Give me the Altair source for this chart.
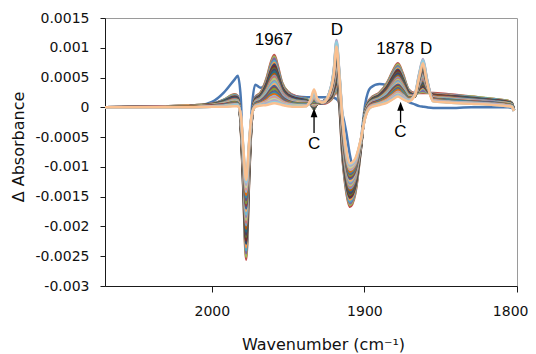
import altair as alt
import pandas as pd

# ---------------- data (absorbance values in units of 1e-5) ----------------
wavenumber = [2070, 2040, 2015, 2000, 1992, 1985, 1983, 1981, 1979.5, 1977.5,
              1975.5, 1974, 1971.5, 1968, 1964, 1961, 1959, 1957, 1954, 1950,
              1944, 1938, 1935, 1933, 1931, 1927, 1922, 1920, 1918.3, 1916.5,
              1914.5, 1912, 1909.5, 1906, 1902.5, 1899.5, 1896, 1890, 1885, 1881,
              1878, 1875, 1871, 1867, 1864, 1861.6, 1859, 1855, 1845, 1830,
              1815, 1806, 1803.5, 1802]

# first scan (dark blue line)
first_scan = [0, 0, 1, 9, 25, 47, 53, 15, -110, -230,
              -110, -10, 38, 33, 40, 52, 58, 50, 32, 22,
              18, 17, 17, 17, 17, 17, 17, 16, 14, 8,
              -10, -40, -80, -110, -60, 5, 33, 39, 37, 34,
              26, 18, 9, 5, 2, 1, 0, -1, -1, 0,
              0, 0, -1, -4]

# later scans 2..30, one list per wavenumber
b2070 = [0,0,0,0,0, 0,0,0,0,0, 0,0,0,0,0, 0,0,0,0,0, 0,0,0,0,0, 0,0,0,0]
b2040 = [1,1,1,1,1, 1,1,1,1,1, 1,1,1,0,0, 0,0,0,0,0, 0,0,0,0,0, 0,0,0,0]
b2015 = [3,3,3,3,3, 2,2,2,2,2, 2,2,2,2,1, 1,1,1,1,1, 1,1,1,0,0, 0,0,0,0]
b2000 = [6,6,6,5,5, 5,5,5,4,4, 4,4,4,4,3, 3,3,3,3,2, 2,2,2,2,2, 1,1,1,1]
b1992 = [13,13,12,12,11, 11,10,10,9,9, 8,8,7,7,6, 6,6,5,5,4, 4,4,3,3,2, 2,2,1,1]
b1985 = [22,21,20,20,19, 18,17,16,16,15, 14,13,13,12,11, 11,10,9,8,8, 7,6,6,5,4, 4,3,3,2]
b1983 = [19,18,18,17,16, 16,15,14,14,13, 12,12,11,11,10, 9,9,8,7,7, 6,6,5,5,4, 4,3,3,2]
b1981 = [-35,-34,-33,-32,-31, -30,-30,-29,-28,-27, -26,-25,-24,-24,-23, -22,-21,-20,-19,-19, -18,-17,-16,-15,-15, -14,-13,-13,-12]
b1979_5 = [-130,-127,-125,-122,-119, -116,-114,-111,-109,-106, -104,-101,-99,-96,-93, -91,-89,-87,-84,-82, -79,-77,-75,-72,-70, -68,-66,-64,-62]
b1977_5 = [-256,-251,-245,-240,-235, -229,-224,-218,-214,-209, -204,-198,-194,-189,-184, -180,-174,-170,-165,-161, -156,-151,-147,-142,-138, -134,-130,-126,-122]
b1975_5 = [-120,-117,-115,-112,-110, -107,-104,-102,-100,-97, -95,-92,-90,-88,-85, -83,-80,-78,-76,-74, -71,-69,-67,-65,-63, -61,-59,-57,-55]
b1974 = [-30,-29,-29,-28,-28, -27,-26,-26,-25,-25, -24,-24,-23,-23,-22, -21,-21,-20,-20,-19, -19,-18,-18,-17,-17, -16,-16,-15,-15]
b1971_5 = [17,16,16,15,14, 14,13,13,12,11, 11,10,10,9,8, 8,7,7,6,6, 5,5,4,3,3, 2,2,1,1]
b1968 = [25,24,23,22,22, 21,20,19,18,17, 16,16,15,14,13, 13,12,11,10,9, 9,8,7,6,6, 5,4,4,3]
b1964 = [50,48,46,44,43, 41,39,37,36,34, 32,30,29,27,25, 24,22,21,19,17, 16,14,13,11,10, 8,7,5,4]
b1961 = [78,75,72,69,67, 64,61,58,56,53, 50,47,45,42,39, 37,34,32,29,27, 24,22,20,17,15, 13,10,8,6]
b1959 = [88,85,82,78,75, 72,69,65,63,60, 56,53,51,48,44, 42,39,36,33,31, 27,25,22,19,17, 14,12,9,7]
b1957 = [72,69,67,64,61, 59,56,54,52,49, 46,44,42,39,36, 34,32,30,27,25, 23,21,19,16,14, 12,10,8,6]
b1954 = [42,41,39,37,36, 34,33,31,30,29, 27,26,25,23,22, 20,19,18,16,15, 14,12,11,10,9, 7,6,5,4]
b1950 = [26,25,24,23,22, 21,20,19,19,18, 17,16,15,14,13, 12,11,11,10,9, 8,7,7,6,5, 4,3,3,2]
b1944 = [18,17,17,16,15, 15,14,13,13,12, 11,11,10,10,9, 8,8,7,6,6, 5,5,4,4,3, 3,2,2,1]
b1938 = [14,14,13,13,12, 12,11,11,10,10, 9,9,9,8,8, 7,7,6,6,6, 5,5,4,4,3, 3,3,2,2]
b1935 = [5,5,5,5,5, 5,5,5,5,5, 5,5,6,6,6, 6,6,7,7,7, 8,8,9,10,10, 11,12,13,15]
b1933 = [-3,-3,-2,-2,-1, -1,0,0,1,1, 2,3,3,4,5, 6,7,8,9,10, 12,13,15,17,19, 21,24,27,30]
b1931 = [6,6,6,6,6, 6,6,6,6,6, 6,6,6,7,7, 7,7,8,8,8, 9,9,10,10,11, 12,13,14,15]
b1927 = [6,7,7,8,8, 8,9,9,9,10, 10,10,10,10,10, 10,10,10,10,10, 10,10,10,10,9, 9,9,8,8]
b1922 = [12,13,14,15,15, 16,17,18,19,20, 20,21,22,23,24, 25,26,26,27,28, 29,30,31,32,32, 33,34,33,30]
b1920 = [20,22,24,25,27, 29,31,33,34,36, 38,40,41,43,45, 47,48,50,52,54, 55,57,59,61,62, 64,65,63,57]
b1918_3 = [27,30,34,37,40, 44,47,50,54,57, 60,63,67,70,73, 77,80,83,86,90, 93,96,100,103,106, 110,113,110,102]
b1916_5 = [5,7,9,12,14, 16,18,20,23,25, 27,29,31,34,36, 38,40,42,45,47, 49,51,53,56,58, 60,62,60,55]
b1914_5 = [-80,-77,-75,-72,-69, -67,-64,-61,-58,-56, -53,-50,-48,-45,-42, -40,-37,-34,-32,-29, -26,-23,-21,-18,-15, -13,-10,-12,-15]
b1912 = [-140,-137,-134,-132,-129, -126,-123,-120,-118,-116, -113,-110,-108,-105,-102, -100,-97,-95,-92,-90, -88,-85,-83,-81,-78, -76,-74,-72,-70]
b1909_5 = [-167,-164,-161,-158,-155, -152,-150,-147,-144,-141, -139,-136,-133,-131,-128, -125,-123,-120,-117,-115, -112,-110,-108,-105,-103, -101,-98,-96,-94]
b1906 = [-145,-143,-140,-138,-136, -133,-131,-129,-127,-124, -122,-120,-118,-116,-113, -111,-109,-107,-105,-103, -101,-99,-97,-95,-93, -91,-90,-88,-86]
b1902_5 = [-75,-74,-73,-73,-72, -71,-70,-69,-69,-68, -67,-66,-66,-65,-64, -64,-63,-62,-61,-61, -60,-59,-59,-58,-57, -57,-56,-56,-55]
b1899_5 = [-5,-5,-6,-6,-6, -7,-7,-7,-8,-8, -9,-9,-10,-10,-11, -11,-12,-12,-13,-13, -14,-14,-15,-15,-16, -16,-17,-17,-18]
b1896 = [15,14,14,13,13, 12,11,11,10,10, 9,9,8,8,7, 6,6,5,5,4, 4,3,3,2,2, 1,1,0,0]
b1890 = [25,24,23,23,22, 21,20,19,19,18, 17,16,15,15,14, 13,12,12,11,10, 9,9,8,7,7, 6,5,5,4]
b1885 = [42,41,39,38,37, 35,34,33,32,30, 29,27,26,25,24, 23,21,20,19,18, 17,16,15,13,12, 11,10,9,8]
b1881 = [63,61,59,57,55, 53,51,49,48,46, 44,42,40,38,36, 35,33,32,30,28, 26,25,23,21,20, 18,17,15,14]
b1878 = [74,72,69,67,65, 63,61,58,57,54, 52,50,48,46,44, 42,40,38,36,34, 32,30,29,26,25, 23,21,20,18]
b1875 = [58,56,54,53,51, 49,47,46,44,43, 41,39,38,36,34, 33,31,30,28,27, 25,24,22,21,19, 18,17,15,14]
b1871 = [30,29,28,28,27, 26,25,24,24,23, 22,21,21,20,19, 19,18,17,16,16, 15,14,14,13,12, 12,11,11,10]
b1867 = [24,23,23,22,22, 21,21,20,20,20, 19,19,19,18,18, 18,18,18,18,18, 19,19,19,20,20, 21,22,21,20]
b1864 = [24,25,27,28,29, 31,32,33,34,36, 37,38,40,41,42, 44,45,46,48,49, 50,51,53,54,55, 57,58,56,52]
b1861_6 = [24,26,28,31,33, 35,37,39,42,44, 46,48,50,53,55, 57,59,61,64,66, 68,70,72,75,77, 79,81,79,74]
b1859 = [24,25,26,27,28, 29,29,30,31,32, 33,34,35,36,37, 38,38,39,40,41, 42,43,44,45,46, 47,48,46,42]
b1855 = [24,23,23,22,22, 21,21,20,20,19, 19,18,18,17,17, 16,16,15,15,14, 14,13,13,12,12, 11,11,10,10]
b1845 = [22,21,21,20,20, 19,19,18,18,17, 17,16,16,15,14, 14,13,13,12,12, 11,11,10,10,9, 9,9,8,8]
b1830 = [18,18,17,17,16, 16,15,15,14,14, 13,13,12,12,12, 11,11,10,10,9, 9,9,8,8,7, 7,7,6,6]
b1815 = [14,14,13,13,12, 12,12,11,11,11, 10,10,9,9,9, 8,8,8,7,7, 7,6,6,6,5, 5,5,4,4]
b1806 = [11,11,10,10,10, 9,9,8,8,8, 7,7,7,7,6, 6,6,5,5,5, 4,4,4,3,3, 3,3,2,2]
b1803_5 = [8,8,7,7,7, 7,6,6,6,6, 5,5,5,5,4, 4,4,4,3,3, 3,3,2,2,2, 2,1,1,1]
b1802 = [-4,-4,-4,-4,-4, -4,-4,-4,-5,-5, -5,-5,-5,-5,-5, -5,-5,-5,-5,-5, -5,-6,-6,-6,-6, -6,-6,-6,-6]

band_rows = [b2070, b2040, b2015, b2000, b1992, b1985, b1983, b1981, b1979_5, b1977_5,
             b1975_5, b1974, b1971_5, b1968, b1964, b1961, b1959, b1957, b1954, b1950,
             b1944, b1938, b1935, b1933, b1931, b1927, b1922, b1920, b1918_3, b1916_5,
             b1914_5, b1912, b1909_5, b1906, b1902_5, b1899_5, b1896, b1890, b1885, b1881,
             b1878, b1875, b1871, b1867, b1864, b1861_6, b1859, b1855, b1845, b1830,
             b1815, b1806, b1803_5, b1802]

series_colors = ["#4A78B2", "#C0504D", "#9BBB59", "#8064A2", "#4BACC6", "#F79646",
                 "#2C4D75", "#772C2A", "#5F7530", "#4D3B62", "#276A7C", "#B65708",
                 "#729ACA", "#CD7371", "#AFC97A", "#9983B5", "#6FBDD1", "#F9AB6B",
                 "#3A679C", "#9F3B38", "#7E9C40", "#664F83", "#358EA6", "#E46C0A",
                 "#95B3D7", "#D99694", "#C3D69B", "#B3A2C7", "#93CDDD", "#FAC090"]

y_ticks = [-0.003, -0.0025, -0.002, -0.0015, -0.001, -0.0005, 0, 0.0005, 0.001, 0.0015]
x_ticks = [2000, 1900, 1800]

# annotations (label text and anchor in data coordinates)
label_text = ["1967", "D", "1878", "D", "C", "C"]
label_wn = [1959.4, 1918.1, 1879.8, 1859.6, 1933.0, 1876.4]
label_val = [0.00113, 0.00130, 0.00098, 0.00098, -0.00062, -0.00042]
arrow_wn = [1933.0, 1876.3]
arrow_start = [-0.00043, -0.00026]
arrow_head = [-0.00009, 0.00002]

# ---------------- build table ----------------
assert len(first_scan) == len(wavenumber), "first scan length"
assert len(band_rows) == len(wavenumber), "rows"
for i, r in enumerate(band_rows):
    assert len(r) == 29, f"row {wavenumber[i]} has {len(r)}"

names = [f"s{k:02d}" for k in range(1, 31)]
records = []
for i, wn in enumerate(wavenumber):
    records.append({"wn": wn, "value": first_scan[i] * 1e-5, "series": names[0]})
for k in range(29):
    for i, wn in enumerate(wavenumber):
        records.append({"wn": wn, "value": band_rows[i][k] * 1e-5, "series": names[k + 1]})
df = pd.DataFrame(records)

labels_df = pd.DataFrame({"t": label_text, "wn": label_wn, "v": label_val})
arrows_df = pd.DataFrame({"wn": arrow_wn, "v0": arrow_start, "v1": arrow_head})

x_scale = alt.Scale(domain=[1800, 2070], reverse=True, nice=False, zero=False)
y_scale = alt.Scale(domain=[-0.003, 0.0015], nice=False, zero=False)

lines = alt.Chart(df).mark_line(strokeWidth=2.5, interpolate="monotone", clip=True).encode(
    x=alt.X("wn:Q", scale=x_scale,
            axis=alt.Axis(values=x_ticks, format="d", title="Wavenumber (cm⁻¹)",
                          tickSize=6, labelPadding=23, labelBaseline="alphabetic",
                          labelOverlap=False, labelFlush=True, labelFlushOffset=11,
                          titleX=218, titleY=63, titleBaseline="alphabetic", titleAlign="center")),
    y=alt.Y("value:Q", scale=y_scale,
            axis=alt.Axis(values=y_ticks, tickCount=20, labelExpr="'' + datum.value",
                          title="Δ Absorbance",
                          tickSize=5, labelPadding=11, labelOverlap=False, labelFlush=False,
                          titleX=-87, titleY=128.5, titleBaseline="middle", titleAlign="center")),
    color=alt.Color("series:N", scale=alt.Scale(domain=names, range=series_colors), legend=None),
)

texts = alt.Chart(labels_df).mark_text(font="Liberation Sans", fontSize=17, color="#000000",
                                       baseline="middle", align="center").encode(
    x=alt.X("wn:Q", scale=x_scale), y=alt.Y("v:Q", scale=y_scale), text="t:N")

shafts = alt.Chart(arrows_df).mark_rule(color="#000000", strokeWidth=1.3).encode(
    x=alt.X("wn:Q", scale=x_scale), y=alt.Y("v0:Q", scale=y_scale), y2="v1:Q")

heads = alt.Chart(arrows_df).mark_point(shape="M0,-1L0.75,1L-0.75,1Z", filled=True, size=81,
                                        color="#000000", opacity=1).encode(
    x=alt.X("wn:Q", scale=x_scale), y=alt.Y("v1:Q", scale=y_scale))

chart = (lines + shafts + heads + texts).properties(
    width=412, height=268,
    autosize=alt.AutoSizeParams(type="none"),
    padding={"left": 97, "top": 10, "right": 11, "bottom": 68},
).configure_view(stroke="#9A9A9A", strokeWidth=1).configure_axis(
    grid=False, domainColor="#1A1A1A", tickColor="#1A1A1A", domainWidth=1, tickWidth=1,
    labelOverlap=False,
    labelFont="DejaVu Sans", labelFontSize=14, labelColor="#111111",
    titleFont="DejaVu Sans", titleFontSize=16, titleFontWeight="normal", titleColor="#111111",
)

chart.save("out.html", embed_options={"renderer": "svg", "actions": False})
